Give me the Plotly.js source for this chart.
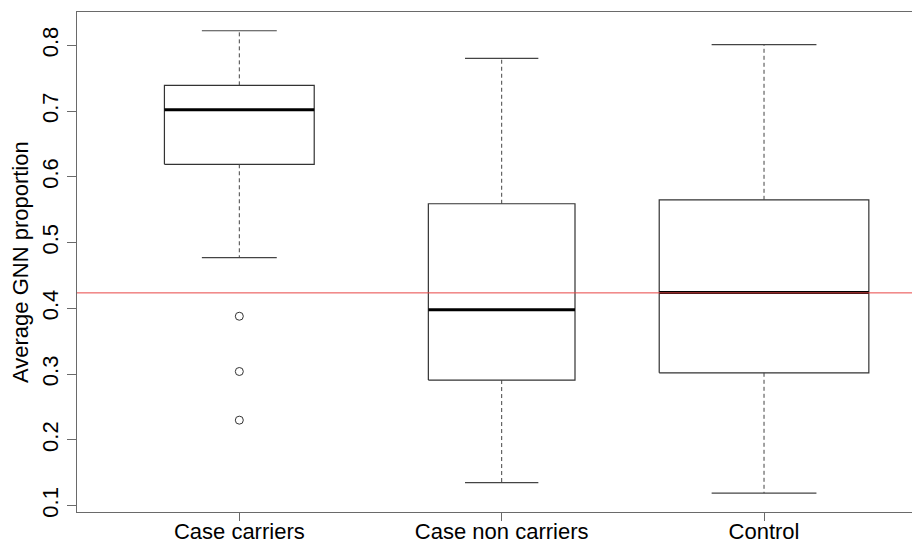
<!DOCTYPE html>
<html>
<head>
<meta charset="utf-8">
<script src="https://cdn.plot.ly/plotly-3.0.1.min.js"></script>
<style>
  html, body { margin: 0; padding: 0; background: #ffffff; }
  #chart { width: 912px; height: 543px; }
</style>
</head>
<body>
<div id="chart"></div>
<script>
// Group labels along the x axis
const groups = ["Case carriers", "Case non carriers", "Control"];

// Five-number summaries per group
const lowerWhisker = [0.477, 0.135, 0.119];
const q1Values     = [0.619, 0.291, 0.302];
const medianValues = [0.702, 0.398, 0.424];
const q3Values     = [0.739, 0.559, 0.565];
const upperWhisker = [0.822, 0.780, 0.801];

// Points beyond the whiskers (Case carriers only)
const outlierGroup  = [1, 1, 1];
const outlierValues = [0.388, 0.304, 0.230];

// Horizontal reference level
const referenceLevel = 0.4235;

// Y axis ticks
const yTickValues = [0.1, 0.2, 0.3, 0.4, 0.5, 0.6, 0.7, 0.8];
const yTickLabels = ["0.1", "0.2", "0.3", "0.4", "0.5", "0.6", "0.7", "0.8"];

// ---- styling ----
const boxWidths = [0.571, 0.559, 0.799];   // widths vary with group size
const FONT = "Liberation Sans, Arial, Helvetica, sans-serif";
const BOX_COLOR = "#333333";
const AXIS_COLOR = "#6a6a6a";

const traces = [];
groups.forEach((g, i) => {
  const c = i + 1;
  const hw = boxWidths[i] / 2;
  const cw = boxWidths[i] / 4;
  // box outline
  traces.push({
    type: "scatter", mode: "lines", hoverinfo: "skip", showlegend: false,
    x: [c - hw, c + hw, c + hw, c - hw, c - hw],
    y: [q1Values[i], q1Values[i], q3Values[i], q3Values[i], q1Values[i]],
    line: { color: BOX_COLOR, width: 1.2 }
  });
  // whiskers (dashed)
  traces.push({
    type: "scatter", mode: "lines", hoverinfo: "skip", showlegend: false,
    x: [c, c, null, c, c],
    y: [q3Values[i], upperWhisker[i], null, q1Values[i], lowerWhisker[i]],
    line: { color: "#444444", width: 1, dash: "4px,3px" }
  });
  // whisker caps
  traces.push({
    type: "scatter", mode: "lines", hoverinfo: "skip", showlegend: false,
    x: [c - cw, c + cw, null, c - cw, c + cw],
    y: [upperWhisker[i], upperWhisker[i], null, lowerWhisker[i], lowerWhisker[i]],
    line: { color: "#444444", width: 1.2 }
  });
  // median
  traces.push({
    type: "scatter", mode: "lines", hoverinfo: "skip", showlegend: false,
    x: [c - hw, c + hw],
    y: [medianValues[i], medianValues[i]],
    line: { color: "#000000", width: 3 }
  });
});

// outliers as open circles
traces.push({
  type: "scatter", mode: "markers", hoverinfo: "skip", showlegend: false,
  x: outlierGroup, y: outlierValues,
  marker: { symbol: "circle-open", size: 8, color: "#333333", line: { width: 1 } }
});

const layout = {
  width: 912, height: 543,
  margin: { l: 77, r: 0, t: 12, b: 31, pad: 0 },
  paper_bgcolor: "#ffffff", plot_bgcolor: "#ffffff",
  font: { family: FONT, size: 22, color: "#000000" },
  showlegend: false,
  xaxis: {
    range: [0.3813, 3.564],
    tickmode: "array", tickvals: [1, 2, 3], ticktext: groups,
    ticks: "outside", ticklen: 8, tickwidth: 1, tickcolor: AXIS_COLOR,
    ticklabelstandoff: -9,
    showline: true, linecolor: AXIS_COLOR, linewidth: 1.3, mirror: true,
    showgrid: false, zeroline: false, automargin: false,
    tickfont: { family: FONT, size: 22, color: "#000000" }
  },
  yaxis: {
    range: [0.0904, 0.8505],
    tickmode: "array", tickvals: yTickValues, ticktext: yTickLabels,
    tickangle: -90,
    ticks: "outside", ticklen: 9, tickwidth: 1, tickcolor: AXIS_COLOR,
    showline: true, linecolor: AXIS_COLOR, linewidth: 1.3, mirror: false,
    showgrid: false, zeroline: false, automargin: false,
    tickfont: { family: FONT, size: 22, color: "#000000" }
  },
  shapes: [{
    type: "line", xref: "paper", x0: 0, x1: 1, yref: "y",
    y0: referenceLevel, y1: referenceLevel,
    line: { color: "#e84545", width: 1 }, layer: "above"
  }],
  annotations: [{
    text: "Average GNN proportion", textangle: -90,
    xref: "paper", yref: "paper",
    x: (20 - 77) / 835, y: 0.5, xanchor: "center", yanchor: "middle",
    showarrow: false,
    font: { family: FONT, size: 22, color: "#000000" }
  }]
};

Plotly.newPlot("chart", traces, layout, { staticPlot: true, displayModeBar: false });
</script>
</body>
</html>
